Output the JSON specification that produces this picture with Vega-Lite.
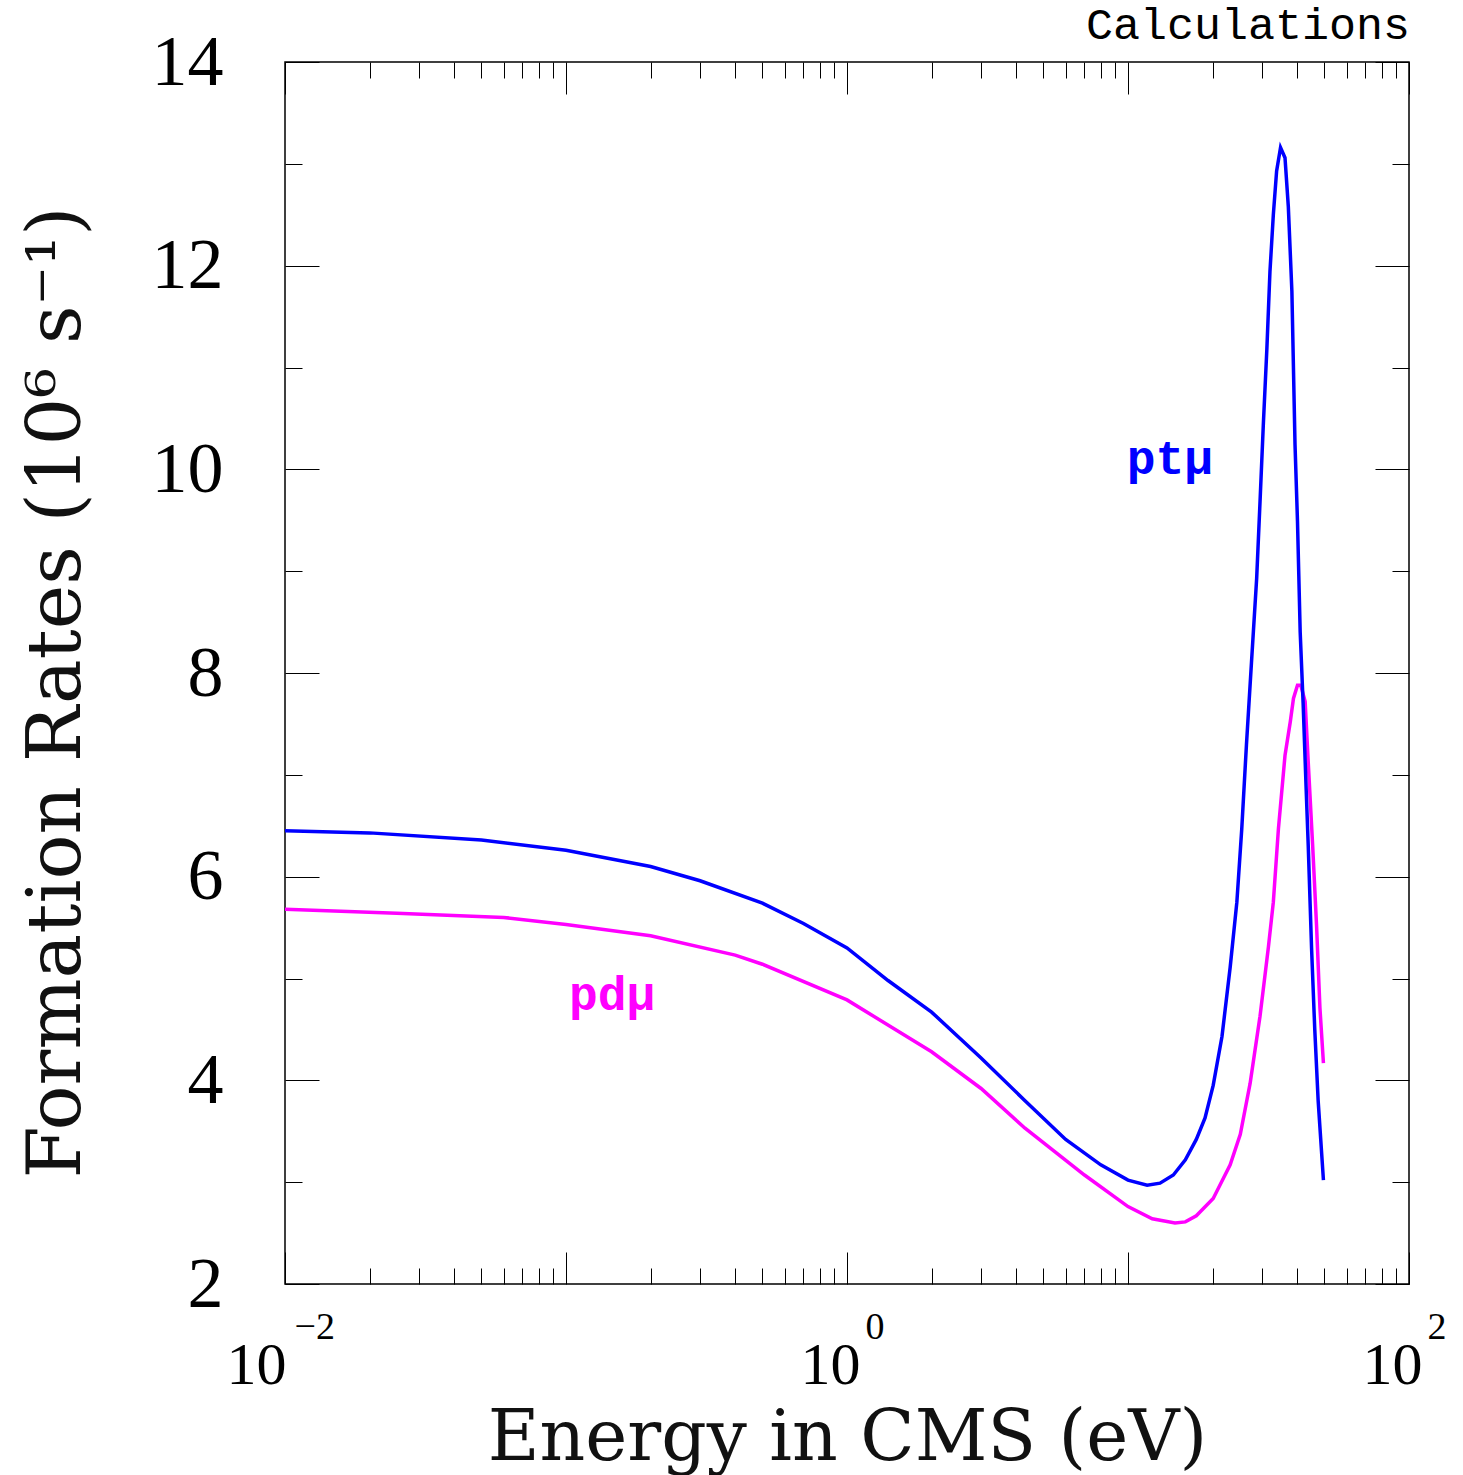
{
  "$schema": "https://vega.github.io/schema/vega-lite/v6.json",
  "width": 1124,
  "height": 1222,
  "autosize": {"type": "none"},
  "padding": {"left": 285, "top": 62, "right": 54, "bottom": 191},
  "background": "white",
  "config": {
    "view": {"stroke": "black", "strokeWidth": 1.5},
    "axis": {"grid": false, "domain": false, "tickColor": "black", "tickWidth": 1, "labelColor": "black", "titleColor": "#111111", "labelFont": "Liberation Serif", "titleFont": "DejaVu Serif", "titleFontWeight": "normal", "labelFlush": false, "labelOverlap": false, "labelBound": false}
  },
  "datasets": {
    "rates": [
      {"series": "ptμ", "E": 0.01, "rate": 6.45},
      {"series": "ptμ", "E": 0.02, "rate": 6.43},
      {"series": "ptμ", "E": 0.05, "rate": 6.36},
      {"series": "ptμ", "E": 0.1, "rate": 6.26},
      {"series": "ptμ", "E": 0.2, "rate": 6.10},
      {"series": "ptμ", "E": 0.3, "rate": 5.96},
      {"series": "ptμ", "E": 0.5, "rate": 5.74},
      {"series": "ptμ", "E": 0.7, "rate": 5.54},
      {"series": "ptμ", "E": 1.0, "rate": 5.30},
      {"series": "ptμ", "E": 1.4, "rate": 4.98},
      {"series": "ptμ", "E": 2.0, "rate": 4.67},
      {"series": "ptμ", "E": 3.0, "rate": 4.22},
      {"series": "ptμ", "E": 4.3, "rate": 3.80},
      {"series": "ptμ", "E": 6.0, "rate": 3.42},
      {"series": "ptμ", "E": 8.0, "rate": 3.17},
      {"series": "ptμ", "E": 10.0, "rate": 3.02},
      {"series": "ptμ", "E": 11.7, "rate": 2.97},
      {"series": "ptμ", "E": 13.0, "rate": 2.99},
      {"series": "ptμ", "E": 14.5, "rate": 3.07},
      {"series": "ptμ", "E": 16.0, "rate": 3.22},
      {"series": "ptμ", "E": 17.5, "rate": 3.42},
      {"series": "ptμ", "E": 18.8, "rate": 3.63},
      {"series": "ptμ", "E": 20.1, "rate": 3.95},
      {"series": "ptμ", "E": 21.6, "rate": 4.43},
      {"series": "ptμ", "E": 23.1, "rate": 5.11},
      {"series": "ptμ", "E": 24.4, "rate": 5.75},
      {"series": "ptμ", "E": 25.4, "rate": 6.47},
      {"series": "ptμ", "E": 26.4, "rate": 7.30},
      {"series": "ptμ", "E": 27.5, "rate": 8.10},
      {"series": "ptμ", "E": 28.7, "rate": 8.93},
      {"series": "ptμ", "E": 29.5, "rate": 9.68},
      {"series": "ptμ", "E": 30.3, "rate": 10.43},
      {"series": "ptμ", "E": 31.2, "rate": 11.18},
      {"series": "ptμ", "E": 32.0, "rate": 11.94},
      {"series": "ptμ", "E": 32.9, "rate": 12.50},
      {"series": "ptμ", "E": 33.8, "rate": 12.93},
      {"series": "ptμ", "E": 34.9, "rate": 13.16},
      {"series": "ptμ", "E": 36.2, "rate": 13.06},
      {"series": "ptμ", "E": 37.2, "rate": 12.58},
      {"series": "ptμ", "E": 38.3, "rate": 11.75},
      {"series": "ptμ", "E": 39.3, "rate": 10.24},
      {"series": "ptμ", "E": 40.1, "rate": 9.49},
      {"series": "ptμ", "E": 41.0, "rate": 8.40},
      {"series": "ptμ", "E": 42.0, "rate": 7.70},
      {"series": "ptμ", "E": 43.0, "rate": 6.90},
      {"series": "ptμ", "E": 43.8, "rate": 6.30},
      {"series": "ptμ", "E": 45.0, "rate": 5.30},
      {"series": "ptμ", "E": 46.2, "rate": 4.50},
      {"series": "ptμ", "E": 47.5, "rate": 3.80},
      {"series": "ptμ", "E": 49.6, "rate": 3.02},
      {"series": "pdμ", "E": 0.01, "rate": 5.68},
      {"series": "pdμ", "E": 0.025, "rate": 5.64},
      {"series": "pdμ", "E": 0.06, "rate": 5.60},
      {"series": "pdμ", "E": 0.1, "rate": 5.53},
      {"series": "pdμ", "E": 0.2, "rate": 5.42},
      {"series": "pdμ", "E": 0.4, "rate": 5.23},
      {"series": "pdμ", "E": 0.5, "rate": 5.14},
      {"series": "pdμ", "E": 1.0, "rate": 4.79},
      {"series": "pdμ", "E": 2.0, "rate": 4.28},
      {"series": "pdμ", "E": 3.0, "rate": 3.92},
      {"series": "pdμ", "E": 4.3, "rate": 3.53},
      {"series": "pdμ", "E": 7.0, "rate": 3.07},
      {"series": "pdμ", "E": 10.0, "rate": 2.76},
      {"series": "pdμ", "E": 12.2, "rate": 2.64},
      {"series": "pdμ", "E": 14.7, "rate": 2.60},
      {"series": "pdμ", "E": 16.0, "rate": 2.61},
      {"series": "pdμ", "E": 17.5, "rate": 2.67},
      {"series": "pdμ", "E": 20.1, "rate": 2.84},
      {"series": "pdμ", "E": 23.1, "rate": 3.17},
      {"series": "pdμ", "E": 25.1, "rate": 3.47},
      {"series": "pdμ", "E": 27.2, "rate": 3.97},
      {"series": "pdμ", "E": 29.5, "rate": 4.63},
      {"series": "pdμ", "E": 31.6, "rate": 5.31},
      {"series": "pdμ", "E": 32.9, "rate": 5.75},
      {"series": "pdμ", "E": 34.3, "rate": 6.47},
      {"series": "pdμ", "E": 36.2, "rate": 7.19},
      {"series": "pdμ", "E": 37.8, "rate": 7.52},
      {"series": "pdμ", "E": 38.8, "rate": 7.75},
      {"series": "pdμ", "E": 40.1, "rate": 7.88},
      {"series": "pdμ", "E": 41.2, "rate": 7.88},
      {"series": "pdμ", "E": 42.7, "rate": 7.72},
      {"series": "pdμ", "E": 43.8, "rate": 7.12},
      {"series": "pdμ", "E": 45.4, "rate": 6.31},
      {"series": "pdμ", "E": 46.9, "rate": 5.51},
      {"series": "pdμ", "E": 48.2, "rate": 4.71},
      {"series": "pdμ", "E": 49.6, "rate": 4.17}
    ],
    "labels": [
      {"series": "ptμ", "E": 14.1, "rate": 9.95},
      {"series": "pdμ", "E": 0.146, "rate": 4.69}
    ],
    "notes": [
      {"E": 100, "rate": 14, "note": "Calculations"}
    ]
  },
  "layer": [
    {
      "data": {"name": "rates"},
      "transform": [{"filter": "datum.series == 'pdμ'"}],
      "mark": {"type": "line", "color": "#FF00FF", "strokeWidth": 3.5, "clip": true},
      "encoding": {
        "x": {"field": "E", "type": "quantitative", "scale": {"type": "log", "domain": [0.01, 100], "nice": false},
          "axis": {"orient": "top", "values": [0.01,0.02,0.03,0.04,0.05,0.06,0.07,0.08,0.09,0.1,0.2,0.3,0.4,0.5,0.6,0.7,0.8,0.9,1,2,3,4,5,6,7,8,9,10,20,30,40,50,60,70,80,90,100],
            "tickSize": {"condition": {"test": "datum.value == 0.01 || datum.value == 0.1 || datum.value == 1 || datum.value == 10 || datum.value == 100", "value": -32}, "value": -16},
            "labels": false, "title": null}},
        "y": {"field": "rate", "type": "quantitative", "scale": {"domain": [2, 14], "nice": false, "zero": false},
          "axis": {"orient": "right", "values": [2,3,4,5,6,7,8,9,10,11,12,13,14],
            "tickSize": {"condition": {"test": "datum.value % 2 == 0", "value": -34}, "value": -17},
            "labels": false, "title": null}}
      }
    },
    {
      "data": {"name": "rates"},
      "transform": [{"filter": "datum.series == 'ptμ'"}],
      "mark": {"type": "line", "color": "#0000FF", "strokeWidth": 3.5, "clip": true},
      "encoding": {
        "x": {"field": "E", "type": "quantitative", "scale": {"type": "log", "domain": [0.01, 100], "nice": false},
          "axis": {"orient": "bottom", "values": [0.01,0.02,0.03,0.04,0.05,0.06,0.07,0.08,0.09,0.1,0.2,0.3,0.4,0.5,0.6,0.7,0.8,0.9,1,2,3,4,5,6,7,8,9,10,20,30,40,50,60,70,80,90,100],
            "tickSize": {"condition": {"test": "datum.value == 0.01 || datum.value == 0.1 || datum.value == 1 || datum.value == 10 || datum.value == 100", "value": -32}, "value": -16},
            "labelExpr": "datum.value == 0.01 || datum.value == 1 || datum.value == 100 ? '10' : ''",
            "labelAlign": "right",
            "labelOffset": {"condition": {"test": "datum.value == 0.01", "value": 1}, "value": 13},
            "labelFontSize": 60, "labelPadding": 131, "labelBaseline": "alphabetic",
            "title": "Energy in CMS (eV)", "titleFontSize": 71, "titlePadding": -8}},
        "y": {"field": "rate", "type": "quantitative", "scale": {"domain": [2, 14], "nice": false, "zero": false},
          "axis": {"orient": "left", "values": [2,3,4,5,6,7,8,9,10,11,12,13,14],
            "tickSize": {"condition": {"test": "datum.value % 2 == 0", "value": -34}, "value": -17},
            "labelExpr": "datum.value % 2 == 0 ? datum.label : ''",
            "labelFontSize": 72, "labelPadding": 96,
            "title": "Formation Rates (10⁶ s⁻¹)", "titleFontSize": 75, "titlePadding": 56, "titleY": 630}}
      }
    },
    {
      "data": {"name": "labels"},
      "mark": {"type": "text", "font": "Liberation Mono", "fontWeight": "bold", "fontSize": 48, "align": "center", "baseline": "alphabetic"},
      "encoding": {
        "x": {"field": "E", "type": "quantitative", "scale": {"type": "log", "domain": [0.01, 100], "nice": false},
          "axis": {"orient": "bottom", "values": [0.01, 1, 100], "ticks": false, "tickSize": 0, "title": null,
            "labelExpr": "datum.value == 0.01 ? '−2' : datum.value == 1 ? '0' : '2'",
            "labelAlign": "left",
            "labelOffset": {"condition": {"test": "datum.value == 0.01", "value": 9}, "value": 18},
            "labelFontSize": 38, "labelPadding": 54, "labelBaseline": "alphabetic"}},
        "y": {"field": "rate", "type": "quantitative", "scale": {"domain": [2, 14], "nice": false, "zero": false}, "axis": null},
        "text": {"field": "series"},
        "color": {"field": "series", "type": "nominal", "scale": {"domain": ["ptμ", "pdμ"], "range": ["#0000FF", "#FF00FF"]}, "legend": null}
      }
    },
    {
      "data": {"name": "notes"},
      "mark": {"type": "text", "font": "Liberation Mono", "fontSize": 45, "align": "right", "baseline": "alphabetic", "color": "black", "dy": -23, "dx": 1},
      "encoding": {
        "x": {"field": "E", "type": "quantitative", "scale": {"type": "log", "domain": [0.01, 100], "nice": false}, "axis": null},
        "y": {"field": "rate", "type": "quantitative", "scale": {"domain": [2, 14], "nice": false, "zero": false}, "axis": null},
        "text": {"field": "note"}
      }
    }
  ],
  "resolve": {"axis": {"x": "independent", "y": "independent"}}
}
